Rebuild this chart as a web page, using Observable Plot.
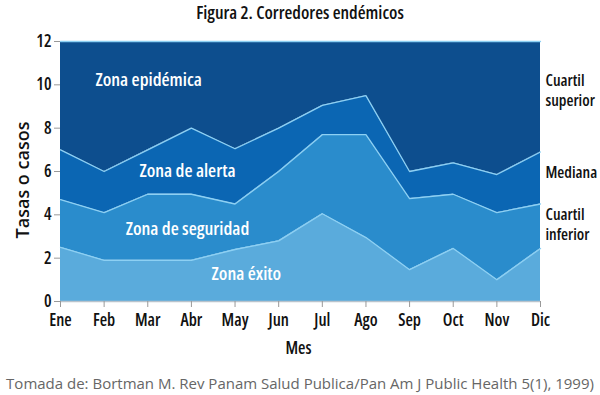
<!DOCTYPE html>
<html>
<head>
<meta charset="utf-8">
<script src="https://cdn.jsdelivr.net/npm/d3@7"></script>
<script src="https://cdn.jsdelivr.net/npm/@observablehq/plot@0.6"></script>
<style>
  body { margin: 0; background: #fff; font-family: "Open Sans", sans-serif; }
  #wrap { width: 600px; height: 395px; position: relative; overflow: hidden; }
  #title { height: 26px; line-height: 25px; text-align: center; font-size: 18px; color: #111; font-stretch: 87.5%; font-weight: 600; }
  #ylabel { position: absolute; left: 22px; top: 180px; transform: translate(-50%, -50%) rotate(-90deg); white-space: nowrap; font-size: 18px; line-height: 20px; color: #111; font-stretch: 90%; font-weight: 600; }
  #caption { position: absolute; left: -50px; top: 371px; width: 700px; text-align: center; font-size: 15px; color: #666; line-height: 24px; white-space: nowrap; font-weight: 500; font-stretch: 97%; }
  svg { display: block; }
  svg text { font-family: "Open Sans", sans-serif !important; font-stretch: 82%; font-weight: 600; }
</style>
</head>
<body>
<div id="wrap">
  <div id="title">Figura 2. Corredores endémicos</div>
  <div id="chart"></div>
  <div id="ylabel">Tasas o casos</div>
  <div id="caption">Tomada de: Bortman M. Rev Panam Salud Publica/Pan Am J Public Health 5(1), 1999)</div>
</div>
<script>
const months = ["Ene","Feb","Mar","Abr","May","Jun","Jul","Ago","Sep","Oct","Nov","Dic"];
const lowerQuartile = [2.5, 1.9, 1.9, 1.9, 2.4, 2.8, 4.05, 2.95, 1.47, 2.45, 1.0, 2.45];
const median        = [4.7, 4.1, 4.95, 4.95, 4.5, 6.0, 7.7, 7.7, 4.75, 4.95, 4.1, 4.5];
const upperQuartile = [7.0, 6.0, 7.0, 8.0, 7.05, 8.0, 9.05, 9.5, 6.0, 6.4, 5.86, 6.9];
const yMax = 12;
const yTicks = [0, 2, 4, 6, 8, 10, 12];

const zoneLabels = [
  {text: "Zona epidémica", x: 2.02, y: 10.23},
  {text: "Zona de alerta", x: 2.91, y: 6.0},
  {text: "Zona de seguridad", x: 2.91, y: 3.33},
  {text: "Zona éxito", x: 4.26, y: 1.25}
];
const sideLabels = [
  {text: "Cuartil\nsuperior", y: 9.78},
  {text: "Mediana", y: 5.98},
  {text: "Cuartil\ninferior", y: 3.58}
];

const rows = months.map((m, i) => ({
  i, m, lo: lowerQuartile[i], med: median[i], up: upperQuartile[i], top: yMax
}));

const colors = {
  exito: "#5aabdc",
  seguridad: "#2a8ccc",
  alerta: "#0b66b3",
  epidemica: "#0d4e8e",
  line: "#8dd0f3"
};

const chart = Plot.plot({
  width: 600,
  height: 334,
  marginLeft: 60,
  marginRight: 60,
  marginTop: 15,
  marginBottom: 59,
  style: {background: "#fff", overflow: "visible"},
  x: {domain: [0, 11], label: null},
  y: {domain: [0, 12], label: null},
  marks: [
    Plot.areaY(rows, {x: "i", y1: 0, y2: "lo", fill: colors.exito}),
    Plot.areaY(rows, {x: "i", y1: "lo", y2: "med", fill: colors.seguridad}),
    Plot.areaY(rows, {x: "i", y1: "med", y2: "up", fill: colors.alerta}),
    Plot.areaY(rows, {x: "i", y1: "up", y2: "top", fill: colors.epidemica}),
    Plot.line(rows, {x: "i", y: "lo", stroke: colors.line, strokeWidth: 1.3}),
    Plot.line(rows, {x: "i", y: "med", stroke: colors.line, strokeWidth: 1.3}),
    Plot.line(rows, {x: "i", y: "up", stroke: colors.line, strokeWidth: 1.3}),
    Plot.line(rows, {x: "i", y: "top", stroke: colors.line, strokeWidth: 1.3}),
    Plot.ruleY([0], {stroke: "#b9c3cc", strokeWidth: 1.5}),
    Plot.axisX({ticks: d3.range(12), tickFormat: i => months[i], tickSize: 6, tickPadding: 6, fontSize: 17, stroke: "#999", color: "#111", label: null}),
    Plot.axisY({ticks: yTicks, tickSize: 6, tickPadding: 3, fontSize: 17, stroke: "#999", color: "#111", label: null}),
    Plot.text(["Mes"], {frameAnchor: "bottom", dy: 52, dx: -2, fontSize: 17, fill: "#111"}),
    Plot.text(zoneLabels, {x: "x", y: "y", text: "text", fill: "#fff", fontSize: 18.5}),
    Plot.text(sideLabels, {x: () => 11, y: "y", text: "text", dx: 5, textAnchor: "start", fill: "#111", fontSize: 16, lineHeight: 1.25})
  ]
});
document.getElementById("chart").appendChild(chart);
</script>
</body>
</html>
